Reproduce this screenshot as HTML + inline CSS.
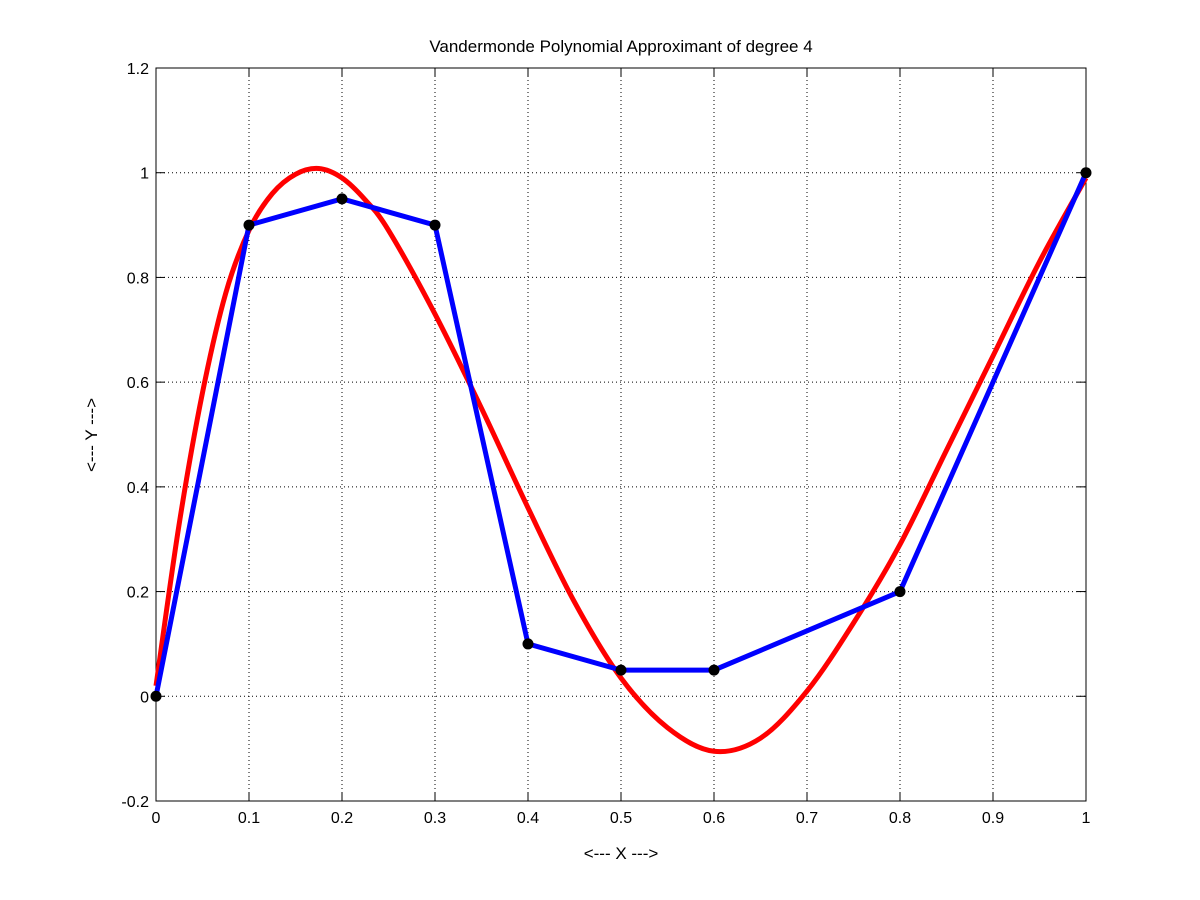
<!DOCTYPE html>
<html><head><meta charset="utf-8"><style>
body{margin:0;background:#fff;}
svg{display:block;font-family:"Liberation Sans",sans-serif;}
</style></head><body>
<svg id="chart" width="1200" height="900" xmlns="http://www.w3.org/2000/svg">
<rect width="1200" height="900" fill="#fff"/>
<g id="grid"></g>
<g id="ticks"></g>
<rect x="156" y="68" width="930" height="733" fill="none" stroke="#000" stroke-width="1"/>
<g id="series"></g>
<text x="621" y="52" font-size="17" text-anchor="middle">Vandermonde Polynomial Approximant of degree 4</text>
<text x="621" y="859" font-size="17" text-anchor="middle">&lt;--- X ---&gt;</text>
<text x="0" y="0" font-size="17" text-anchor="middle" transform="translate(97,435) rotate(-90)">&lt;--- Y ---&gt;</text>
</svg>
<script>
const xTicks=[0,0.1,0.2,0.3,0.4,0.5,0.6,0.7,0.8,0.9,1];
const xTickLabels=["0","0.1","0.2","0.3","0.4","0.5","0.6","0.7","0.8","0.9","1"];
const yTicks=[-0.2,0,0.2,0.4,0.6,0.8,1,1.2];
const yTickLabels=["-0.2","0","0.2","0.4","0.6","0.8","1","1.2"];
const dataX=[0,0.1,0.2,0.3,0.4,0.5,0.6,0.8,1];
const dataY=[0,0.9,0.95,0.9,0.1,0.05,0.05,0.2,1];
const fitX=[0,0.025,0.05,0.075,0.1,0.125,0.15,0.175,0.2,0.225,0.25,0.3,0.35,0.4,0.45,0.5,0.55,0.6,0.65,0.7,0.75,0.8,0.85,0.9,0.95,1];
const fitY=[0.02,0.33,0.58,0.77,0.89,0.96,0.997,1.008,0.99,0.948,0.89,0.73,0.55,0.36,0.18,0.035,-0.06,-0.105,-0.08,0.01,0.14,0.29,0.47,0.65,0.83,0.99];
const X0=156,X1=1086,Y0=801,Y1=68;
const sx=v=>X0+(v-0)/(1-0)*(X1-X0);
const sy=v=>Y0-(v+0.2)/1.4*(Y0-Y1);
const NS="http://www.w3.org/2000/svg";
function mk(tag,attrs,parent){const e=document.createElementNS(NS,tag);for(const k in attrs)e.setAttribute(k,attrs[k]);parent.appendChild(e);return e;}
const grid=document.getElementById('grid'),ticks=document.getElementById('ticks'),series=document.getElementById('series');
xTicks.forEach((t,i)=>{const x=sx(t);
 const g=mk('line',{x1:x,x2:x,y1:Y1,y2:Y0,stroke:'#000','stroke-width':1,'stroke-dasharray':'1,3'},grid);
 
 
 mk('line',{x1:x,x2:x,y1:Y0,y2:Y0-9,stroke:'#000'},ticks);
 mk('line',{x1:x,x2:x,y1:Y1,y2:Y1+9,stroke:'#000'},ticks);
 const l=mk('text',{x:x,y:Y0+22,'font-size':16,'text-anchor':'middle'},ticks);l.textContent=xTickLabels[i];
 
 
});
yTicks.forEach((t,i)=>{const y=sy(t);
 const g=mk('line',{x1:X0,x2:X1,y1:y,y2:y,stroke:'#000','stroke-width':1,'stroke-dasharray':'1,3'},grid);
 
 
 mk('line',{x1:X0,x2:X0+9,y1:y,y2:y,stroke:'#000'},ticks);
 mk('line',{x1:X1,x2:X1-9,y1:y,y2:y,stroke:'#000'},ticks);
 const l=mk('text',{x:X0-7,y:y+6,'font-size':16,'text-anchor':'end'},ticks);l.textContent=yTickLabels[i];
 
 
});
const P=fitX.map((x,i)=>[sx(x),sy(fitY[i])]);
let d=`M${P[0][0]},${P[0][1]}`;
for(let i=0;i<P.length-1;i++){const p0=P[Math.max(0,i-1)],p1=P[i],p2=P[i+1],p3=P[Math.min(P.length-1,i+2)];
 d+=` C${p1[0]+(p2[0]-p0[0])/6},${p1[1]+(p2[1]-p0[1])/6} ${p2[0]-(p3[0]-p1[0])/6},${p2[1]-(p3[1]-p1[1])/6} ${p2[0]},${p2[1]}`;}
const red=mk('path',{d:d,fill:'none',stroke:'#ff0000','stroke-width':5},series);


const blue=mk('polyline',{points:dataX.map((x,i)=>sx(x)+','+sy(dataY[i])).join(' '),fill:'none',stroke:'#0000ff','stroke-width':5,'stroke-linejoin':'miter'},series);


dataX.forEach((x,i)=>{const c=mk('circle',{cx:sx(x),cy:sy(dataY[i]),r:5.5,fill:'#000'},series);
 
 });
</script>
</body></html>
